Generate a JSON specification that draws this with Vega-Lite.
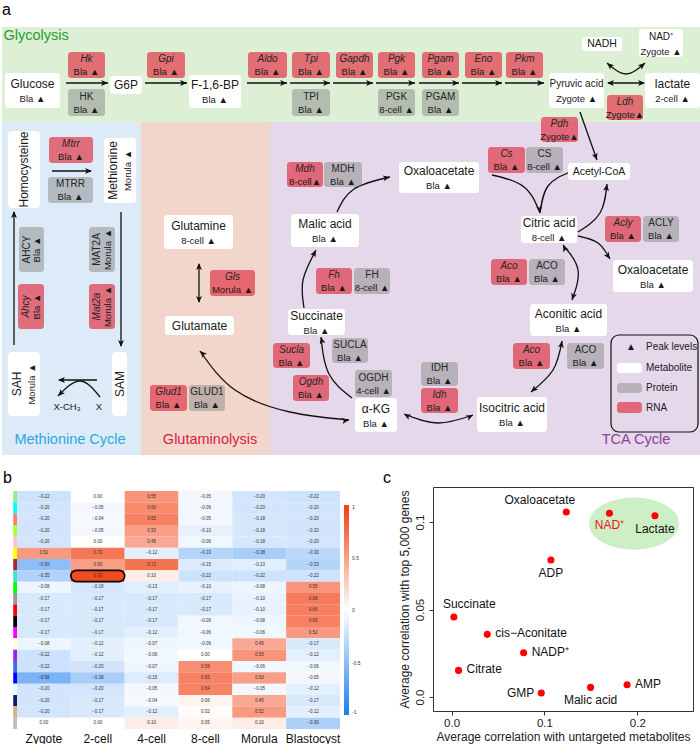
{
"$schema": "https://vega.github.io/schema/vega-lite/v6.json",
"padding": 0,
"background": "white",
"config": {
  "font": "Liberation Sans",
  "view": {"stroke": null},
  "concat": {"spacing": 0},
  "axis": {"grid": false},
  "title": {"fontSize": 16, "fontWeight": "normal", "anchor": "start", "font": "Liberation Sans", "color": "#000000"}
},
"datasets": {
  "regions": [
    {"region": "Glycolysis", "x1": 2, "x2": 700, "y1": 27, "y2": 122, "tx": 36, "ty": 36},
    {"region": "Methionine Cycle", "x1": 2, "x2": 141, "y1": 122, "y2": 455, "tx": 70, "ty": 440},
    {"region": "Glutaminolysis", "x1": 141, "x2": 270, "y1": 122, "y2": 455, "tx": 210, "ty": 440},
    {"region": "TCA Cycle", "x1": 270, "x2": 700, "y1": 122, "y2": 455, "tx": 636, "ty": 440}
  ],
  "boxes": [
    {"name": "Glucose", "peak": "Bla ▲", "kind": "metabolite", "grp": "big", "x1": 5, "x2": 60, "y1": 73, "y2": 108, "cx": 32.5, "cy": 90.5},
    {"name": "G6P", "peak": "", "kind": "metabolite", "grp": "big", "x1": 110, "x2": 142, "y1": 76, "y2": 94, "cx": 126, "cy": 85},
    {"name": "F-1,6-BP", "peak": "Bla ▲", "kind": "metabolite", "grp": "big", "x1": 189, "x2": 241, "y1": 75, "y2": 108, "cx": 215, "cy": 91.5},
    {"name": "lactate", "peak": "2-cell ▲", "kind": "metabolite", "grp": "big", "x1": 645, "x2": 700, "y1": 73, "y2": 108, "cx": 672.5, "cy": 90.5},
    {"name": "Glutamine", "peak": "8-cell ▲", "kind": "metabolite", "grp": "big", "x1": 164, "x2": 233, "y1": 215, "y2": 249, "cx": 198.5, "cy": 232},
    {"name": "Glutamate", "peak": "", "kind": "metabolite", "grp": "big", "x1": 165, "x2": 234, "y1": 316, "y2": 335, "cx": 199.5, "cy": 325.5},
    {"name": "Malic acid", "peak": "Bla ▲", "kind": "metabolite", "grp": "big", "x1": 291, "x2": 359, "y1": 214, "y2": 247, "cx": 325, "cy": 230.5},
    {"name": "Oxaloacetate", "peak": "Bla ▲", "kind": "metabolite", "grp": "big", "x1": 399, "x2": 479, "y1": 162, "y2": 193, "cx": 439, "cy": 177.5},
    {"name": "Succinate", "peak": "Bla ▲", "kind": "metabolite", "grp": "big", "x1": 288, "x2": 345, "y1": 309, "y2": 335, "cx": 316.5, "cy": 322},
    {"name": "Citric acid", "peak": "8-cell ▲", "kind": "metabolite", "grp": "big", "x1": 521, "x2": 577, "y1": 216, "y2": 243, "cx": 549, "cy": 229.5},
    {"name": "Oxaloacetate", "peak": "Bla ▲", "kind": "metabolite", "grp": "big", "x1": 613, "x2": 693, "y1": 260, "y2": 292, "cx": 653, "cy": 276},
    {"name": "Aconitic acid", "peak": "Bla ▲", "kind": "metabolite", "grp": "big", "x1": 530, "x2": 607, "y1": 304, "y2": 336, "cx": 568.5, "cy": 320},
    {"name": "Isocitric acid", "peak": "Bla ▲", "kind": "metabolite", "grp": "big", "x1": 477, "x2": 547, "y1": 397, "y2": 432, "cx": 512, "cy": 414.5},
    {"name": "α-KG", "peak": "Bla ▲", "kind": "metabolite", "grp": "big", "x1": 355, "x2": 397, "y1": 398, "y2": 432, "cx": 376, "cy": 415},
    {"name": "Pyruvic acid", "peak": "Zygote ▲", "kind": "metabolite", "grp": "small", "x1": 549, "x2": 604, "y1": 73, "y2": 108, "cx": 576.5, "cy": 90.5},
    {"name": "NADH", "peak": "", "kind": "metabolite", "grp": "small", "x1": 582, "x2": 622, "y1": 37, "y2": 51, "cx": 602, "cy": 44},
    {"name": "NAD⁺", "peak": "Zygote ▲", "kind": "metabolite", "grp": "small", "x1": 639, "x2": 683, "y1": 29, "y2": 57, "cx": 661, "cy": 43},
    {"name": "Acetyl-CoA", "peak": "", "kind": "metabolite", "grp": "small", "x1": 568, "x2": 630, "y1": 163, "y2": 180, "cx": 599, "cy": 171.5},
    {"name": "Hk", "peak": "Bla ▲", "kind": "rna", "grp": "enz", "x1": 68, "x2": 105, "y1": 52, "y2": 78, "cx": 86.5, "cy": 65},
    {"name": "Gpi", "peak": "Bla ▲", "kind": "rna", "grp": "enz", "x1": 147, "x2": 185, "y1": 52, "y2": 78, "cx": 166, "cy": 65},
    {"name": "Aldo", "peak": "Bla ▲", "kind": "rna", "grp": "enz", "x1": 248, "x2": 287, "y1": 52, "y2": 78, "cx": 267.5, "cy": 65},
    {"name": "Tpi", "peak": "Bla ▲", "kind": "rna", "grp": "enz", "x1": 292, "x2": 330, "y1": 52, "y2": 78, "cx": 311, "cy": 65},
    {"name": "Gapdh", "peak": "Bla ▲", "kind": "rna", "grp": "enz", "x1": 336, "x2": 373, "y1": 52, "y2": 78, "cx": 354.5, "cy": 65},
    {"name": "Pgk", "peak": "Bla ▲", "kind": "rna", "grp": "enz", "x1": 378, "x2": 415, "y1": 52, "y2": 78, "cx": 396.5, "cy": 65},
    {"name": "Pgam", "peak": "Bla ▲", "kind": "rna", "grp": "enz", "x1": 422, "x2": 459, "y1": 52, "y2": 78, "cx": 440.5, "cy": 65},
    {"name": "Eno", "peak": "Bla ▲", "kind": "rna", "grp": "enz", "x1": 465, "x2": 502, "y1": 52, "y2": 78, "cx": 483.5, "cy": 65},
    {"name": "Pkm", "peak": "Bla ▲", "kind": "rna", "grp": "enz", "x1": 506, "x2": 543, "y1": 52, "y2": 78, "cx": 524.5, "cy": 65},
    {"name": "Ldh", "peak": "Zygote▲", "kind": "rna", "grp": "enz", "x1": 607, "x2": 643, "y1": 95, "y2": 120, "cx": 625, "cy": 107.5},
    {"name": "Pdh", "peak": "Zygote▲", "kind": "rna", "grp": "enz", "x1": 541, "x2": 578, "y1": 117, "y2": 142, "cx": 559.5, "cy": 129.5},
    {"name": "Mtrr", "peak": "Bla ▲", "kind": "rna", "grp": "enz", "x1": 49, "x2": 93, "y1": 137, "y2": 163, "cx": 71, "cy": 150},
    {"name": "Gls", "peak": "Morula ▲", "kind": "rna", "grp": "enz", "x1": 210, "x2": 255, "y1": 270, "y2": 296, "cx": 232.5, "cy": 283},
    {"name": "Glud1", "peak": "Bla ▲", "kind": "rna", "grp": "enz", "x1": 150, "x2": 187, "y1": 385, "y2": 411, "cx": 168.5, "cy": 398},
    {"name": "Cs", "peak": "Bla ▲", "kind": "rna", "grp": "enz", "x1": 488, "x2": 525, "y1": 147, "y2": 173, "cx": 506.5, "cy": 160},
    {"name": "Mdh", "peak": "8-cell▲", "kind": "rna", "grp": "enz", "x1": 287, "x2": 323, "y1": 162, "y2": 187, "cx": 305, "cy": 174.5},
    {"name": "Fh", "peak": "Bla ▲", "kind": "rna", "grp": "enz", "x1": 316, "x2": 352, "y1": 268, "y2": 294, "cx": 334, "cy": 281},
    {"name": "Acly", "peak": "Bla ▲", "kind": "rna", "grp": "enz", "x1": 605, "x2": 641, "y1": 216, "y2": 242, "cx": 623, "cy": 229},
    {"name": "Aco", "peak": "Bla ▲", "kind": "rna", "grp": "enz", "x1": 491, "x2": 527, "y1": 259, "y2": 285, "cx": 509, "cy": 272},
    {"name": "Sucla", "peak": "Bla ▲", "kind": "rna", "grp": "enz", "x1": 273, "x2": 310, "y1": 343, "y2": 368, "cx": 291.5, "cy": 355.5},
    {"name": "Aco", "peak": "Bla ▲", "kind": "rna", "grp": "enz", "x1": 513, "x2": 550, "y1": 343, "y2": 369, "cx": 531.5, "cy": 356},
    {"name": "Idh", "peak": "Bla ▲", "kind": "rna", "grp": "enz", "x1": 421, "x2": 458, "y1": 388, "y2": 413, "cx": 439.5, "cy": 400.5},
    {"name": "Ogdh", "peak": "Bla ▲", "kind": "rna", "grp": "enz", "x1": 293, "x2": 329, "y1": 375, "y2": 401, "cx": 311, "cy": 388},
    {"name": "HK", "peak": "Bla ▲", "kind": "protein", "grp": "enz", "x1": 68, "x2": 105, "y1": 89, "y2": 116, "cx": 86.5, "cy": 102.5},
    {"name": "TPI", "peak": "Bla ▲", "kind": "protein", "grp": "enz", "x1": 292, "x2": 330, "y1": 89, "y2": 116, "cx": 311, "cy": 102.5},
    {"name": "PGK", "peak": "8-cell ▲", "kind": "protein", "grp": "enz", "x1": 378, "x2": 415, "y1": 89, "y2": 116, "cx": 396.5, "cy": 102.5},
    {"name": "PGAM", "peak": "Bla ▲", "kind": "protein", "grp": "enz", "x1": 422, "x2": 459, "y1": 89, "y2": 116, "cx": 440.5, "cy": 102.5},
    {"name": "MTRR", "peak": "Bla ▲", "kind": "protein", "grp": "enz", "x1": 48, "x2": 93, "y1": 177, "y2": 203, "cx": 70.5, "cy": 190},
    {"name": "GLUD1", "peak": "Bla ▲", "kind": "protein", "grp": "enz", "x1": 189, "x2": 225, "y1": 385, "y2": 411, "cx": 207, "cy": 398},
    {"name": "CS", "peak": "8-cell ▲", "kind": "protein", "grp": "enz", "x1": 526, "x2": 563, "y1": 147, "y2": 173, "cx": 544.5, "cy": 160},
    {"name": "MDH", "peak": "Bla ▲", "kind": "protein", "grp": "enz", "x1": 324, "x2": 362, "y1": 162, "y2": 187, "cx": 343, "cy": 174.5},
    {"name": "FH", "peak": "8-cell ▲", "kind": "protein", "grp": "enz", "x1": 354, "x2": 390, "y1": 268, "y2": 294, "cx": 372, "cy": 281},
    {"name": "ACLY", "peak": "Bla ▲", "kind": "protein", "grp": "enz", "x1": 643, "x2": 679, "y1": 216, "y2": 242, "cx": 661, "cy": 229},
    {"name": "ACO", "peak": "Bla ▲", "kind": "protein", "grp": "enz", "x1": 529, "x2": 565, "y1": 259, "y2": 285, "cx": 547, "cy": 272},
    {"name": "SUCLA", "peak": "Bla ▲", "kind": "protein", "grp": "enz", "x1": 332, "x2": 368, "y1": 338, "y2": 363, "cx": 350, "cy": 350.5},
    {"name": "ACO", "peak": "Bla ▲", "kind": "protein", "grp": "enz", "x1": 567, "x2": 604, "y1": 343, "y2": 369, "cx": 585.5, "cy": 356},
    {"name": "IDH", "peak": "Bla ▲", "kind": "protein", "grp": "enz", "x1": 421, "x2": 458, "y1": 362, "y2": 386, "cx": 439.5, "cy": 374},
    {"name": "OGDH", "peak": "4-cell ▲", "kind": "protein", "grp": "enz", "x1": 355, "x2": 392, "y1": 370, "y2": 397, "cx": 373.5, "cy": 383.5},
    {"name": "Homocysteine", "peak": "", "kind": "metabolite", "grp": "vbig", "x1": 8, "x2": 40, "y1": 131, "y2": 208, "cx": 24, "cy": 169.5},
    {"name": "Methionine", "peak": "Morula ▲", "kind": "metabolite", "grp": "vbig", "x1": 104, "x2": 136, "y1": 138, "y2": 203, "cx": 120, "cy": 170.5},
    {"name": "SAH", "peak": "Morula ▲", "kind": "metabolite", "grp": "vbig", "x1": 8, "x2": 40, "y1": 352, "y2": 416, "cx": 24, "cy": 384},
    {"name": "SAM", "peak": "", "kind": "metabolite", "grp": "vbig", "x1": 112, "x2": 127, "y1": 352, "y2": 416, "cx": 119.5, "cy": 384},
    {"name": "AHCY", "peak": "Bla ▲", "kind": "protein", "grp": "venz", "x1": 19, "x2": 44, "y1": 227, "y2": 272, "cx": 31.5, "cy": 249.5},
    {"name": "Ahcy", "peak": "Bla ▲", "kind": "rna", "grp": "venz", "x1": 18, "x2": 44, "y1": 284, "y2": 329, "cx": 31, "cy": 306.5},
    {"name": "MAT2A", "peak": "Morula ▲", "kind": "protein", "grp": "venz", "x1": 89, "x2": 115, "y1": 227, "y2": 272, "cx": 102, "cy": 249.5},
    {"name": "Mat2a", "peak": "Morula ▲", "kind": "rna", "grp": "venz", "x1": 89, "x2": 115, "y1": 284, "y2": 329, "cx": 102, "cy": 306.5},
    {"name": "", "peak": "", "kind": "metabolite", "grp": "swatch", "x1": 617, "x2": 642, "y1": 363, "y2": 373, "cx": 629.5, "cy": 368},
    {"name": "", "peak": "", "kind": "protein", "grp": "swatch", "x1": 617, "x2": 642, "y1": 383, "y2": 393, "cx": 629.5, "cy": 388},
    {"name": "", "peak": "", "kind": "rna", "grp": "swatch", "x1": 617, "x2": 642, "y1": 402, "y2": 413, "cx": 629.5, "cy": 407.5}
  ],
  "segs": [
    {"x1": 66, "y1": 83, "x2": 108, "y2": 83},
    {"x1": 145, "y1": 83, "x2": 187, "y2": 83},
    {"x1": 247, "y1": 83, "x2": 287, "y2": 83},
    {"x1": 290, "y1": 83, "x2": 330, "y2": 83},
    {"x1": 333, "y1": 83, "x2": 373, "y2": 83},
    {"x1": 376, "y1": 83, "x2": 415, "y2": 83},
    {"x1": 419, "y1": 83, "x2": 459, "y2": 83},
    {"x1": 462, "y1": 83, "x2": 502, "y2": 83},
    {"x1": 505, "y1": 83, "x2": 544, "y2": 83},
    {"x1": 608, "y1": 83, "x2": 644, "y2": 83},
    {"x1": 580, "y1": 112, "x2": 597, "y2": 160},
    {"x1": 14, "y1": 345, "x2": 14, "y2": 212},
    {"x1": 121, "y1": 212, "x2": 121, "y2": 346},
    {"x1": 52, "y1": 171, "x2": 91, "y2": 171},
    {"x1": 97, "y1": 380, "x2": 59, "y2": 380},
    {"x1": 199, "y1": 264, "x2": 199, "y2": 302}
  ],
  "curves": [
    {"id": "c1", "i": 0, "x": 607, "y": 63}, {"id": "c1", "i": 1, "x": 626, "y": 74}, {"id": "c1", "i": 2, "x": 645, "y": 63},
    {"id": "c2", "i": 0, "x": 337, "y": 212}, {"id": "c2", "i": 1, "x": 354, "y": 189}, {"id": "c2", "i": 2, "x": 390, "y": 177},
    {"id": "c3", "i": 0, "x": 304, "y": 308}, {"id": "c3", "i": 1, "x": 303, "y": 280}, {"id": "c3", "i": 2, "x": 316, "y": 250},
    {"id": "c4", "i": 0, "x": 352, "y": 398}, {"id": "c4", "i": 1, "x": 329, "y": 374}, {"id": "c4", "i": 2, "x": 321, "y": 337},
    {"id": "c5", "i": 0, "x": 200, "y": 351}, {"id": "c5", "i": 1, "x": 235, "y": 390}, {"id": "c5", "i": 2, "x": 290, "y": 412}, {"id": "c5", "i": 3, "x": 349, "y": 420},
    {"id": "c6", "i": 0, "x": 404, "y": 414}, {"id": "c6", "i": 1, "x": 438, "y": 423}, {"id": "c6", "i": 2, "x": 473, "y": 415},
    {"id": "c7", "i": 0, "x": 531, "y": 392}, {"id": "c7", "i": 1, "x": 553, "y": 370}, {"id": "c7", "i": 2, "x": 562, "y": 341},
    {"id": "c8", "i": 0, "x": 563, "y": 245}, {"id": "c8", "i": 1, "x": 578, "y": 270}, {"id": "c8", "i": 2, "x": 572, "y": 300},
    {"id": "c9", "i": 0, "x": 578, "y": 232}, {"id": "c9", "i": 1, "x": 600, "y": 213}, {"id": "c9", "i": 2, "x": 607, "y": 184},
    {"id": "c10", "i": 0, "x": 578, "y": 236}, {"id": "c10", "i": 1, "x": 598, "y": 243}, {"id": "c10", "i": 2, "x": 610, "y": 259},
    {"id": "c11", "i": 0, "x": 492, "y": 175}, {"id": "c11", "i": 1, "x": 524, "y": 187}, {"id": "c11", "i": 2, "x": 540, "y": 213},
    {"id": "c12", "i": 0, "x": 570, "y": 172}, {"id": "c12", "i": 1, "x": 548, "y": 186}, {"id": "c12", "i": 2, "x": 540, "y": 213},
    {"id": "c13", "i": 0, "x": 100, "y": 397}, {"id": "c13", "i": 1, "x": 80, "y": 381}, {"id": "c13", "i": 2, "x": 58, "y": 396}
  ],
  "heads": [
    {"x": 108, "y": 83, "a": 90}, {"x": 187, "y": 83, "a": 90}, {"x": 287, "y": 83, "a": 90}, {"x": 330, "y": 83, "a": 90},
    {"x": 373, "y": 83, "a": 90}, {"x": 415, "y": 83, "a": 90}, {"x": 459, "y": 83, "a": 90}, {"x": 502, "y": 83, "a": 90},
    {"x": 544, "y": 83, "a": 90}, {"x": 607, "y": 83, "a": 270}, {"x": 645, "y": 83, "a": 90}, {"x": 597, "y": 160, "a": 160},
    {"x": 14, "y": 211, "a": 0}, {"x": 121, "y": 347, "a": 180}, {"x": 92, "y": 171, "a": 90}, {"x": 58, "y": 380, "a": 270},
    {"x": 199, "y": 263, "a": 0}, {"x": 199, "y": 303, "a": 180},
    {"x": 607, "y": 63, "a": 311}, {"x": 645, "y": 63, "a": 49}, {"x": 390, "y": 177, "a": 79}, {"x": 316, "y": 250, "a": 27},
    {"x": 321, "y": 337, "a": 347}, {"x": 200, "y": 351, "a": 315}, {"x": 349, "y": 420, "a": 82}, {"x": 404, "y": 414, "a": 299},
    {"x": 473, "y": 415, "a": 63}, {"x": 531, "y": 392, "a": 228}, {"x": 562, "y": 341, "a": 10}, {"x": 563, "y": 245, "a": 333},
    {"x": 572, "y": 300, "a": 198}, {"x": 607, "y": 184, "a": 8}, {"x": 610, "y": 259, "a": 146}, {"x": 540, "y": 213, "a": 172},
    {"x": 58, "y": 396, "a": 225}
  ],
  "frame": [{"x1": 611, "x2": 698, "y1": 335, "y2": 432}],
  "legendText": [
    {"t": "▲", "x": 626, "y": 347}, {"t": "Peak levels", "x": 646, "y": 347}, {"t": "Metabolite", "x": 646, "y": 368},
    {"t": "Protein", "x": 646, "y": 388}, {"t": "RNA", "x": 646, "y": 407.5}
  ],
  "notes": [{"t": "X-CH₃", "x": 67, "y": 407}, {"t": "X", "x": 99, "y": 407}],
  "panelLabel": [{"t": "a", "x": 2, "y": 10}],
  "heat": [
    {"m": "lightgreen", "s": "Zygote", "r": -0.22}, {"m": "lightgreen", "s": "2-cell", "r": 0.0}, {"m": "lightgreen", "s": "4-cell", "r": 0.55}, {"m": "lightgreen", "s": "8-cell", "r": -0.05}, {"m": "lightgreen", "s": "Morula", "r": -0.2}, {"m": "lightgreen", "s": "Blastocyst", "r": -0.22},
    {"m": "cyan", "s": "Zygote", "r": -0.2}, {"m": "cyan", "s": "2-cell", "r": -0.05}, {"m": "cyan", "s": "4-cell", "r": 0.6}, {"m": "cyan", "s": "8-cell", "r": -0.06}, {"m": "cyan", "s": "Morula", "r": -0.2}, {"m": "cyan", "s": "Blastocyst", "r": -0.2},
    {"m": "salmon", "s": "Zygote", "r": -0.2}, {"m": "salmon", "s": "2-cell", "r": -0.04}, {"m": "salmon", "s": "4-cell", "r": 0.65}, {"m": "salmon", "s": "8-cell", "r": -0.05}, {"m": "salmon", "s": "Morula", "r": -0.18}, {"m": "salmon", "s": "Blastocyst", "r": -0.2},
    {"m": "greenyellow", "s": "Zygote", "r": -0.2}, {"m": "greenyellow", "s": "2-cell", "r": -0.05}, {"m": "greenyellow", "s": "4-cell", "r": 0.5}, {"m": "greenyellow", "s": "8-cell", "r": -0.1}, {"m": "greenyellow", "s": "Morula", "r": -0.18}, {"m": "greenyellow", "s": "Blastocyst", "r": -0.2},
    {"m": "pink", "s": "Zygote", "r": -0.2}, {"m": "pink", "s": "2-cell", "r": 0.0}, {"m": "pink", "s": "4-cell", "r": 0.45}, {"m": "pink", "s": "8-cell", "r": -0.06}, {"m": "pink", "s": "Morula", "r": -0.18}, {"m": "pink", "s": "Blastocyst", "r": -0.2},
    {"m": "yellow", "s": "Zygote", "r": 0.52}, {"m": "yellow", "s": "2-cell", "r": 0.7}, {"m": "yellow", "s": "4-cell", "r": -0.12}, {"m": "yellow", "s": "8-cell", "r": -0.33}, {"m": "yellow", "s": "Morula", "r": -0.38}, {"m": "yellow", "s": "Blastocyst", "r": -0.3},
    {"m": "brown", "s": "Zygote", "r": -0.5}, {"m": "brown", "s": "2-cell", "r": 0.5}, {"m": "brown", "s": "4-cell", "r": 0.72}, {"m": "brown", "s": "8-cell", "r": -0.15}, {"m": "brown", "s": "Morula", "r": -0.13}, {"m": "brown", "s": "Blastocyst", "r": -0.33},
    {"m": "turquoise", "s": "Zygote", "r": -0.35}, {"m": "turquoise", "s": "2-cell", "r": 0.93}, {"m": "turquoise", "s": "4-cell", "r": 0.1}, {"m": "turquoise", "s": "8-cell", "r": -0.22}, {"m": "turquoise", "s": "Morula", "r": -0.22}, {"m": "turquoise", "s": "Blastocyst", "r": -0.22},
    {"m": "green", "s": "Zygote", "r": -0.08}, {"m": "green", "s": "2-cell", "r": -0.18}, {"m": "green", "s": "4-cell", "r": -0.13}, {"m": "green", "s": "8-cell", "r": -0.1}, {"m": "green", "s": "Morula", "r": -0.08}, {"m": "green", "s": "Blastocyst", "r": 0.55},
    {"m": "grey60", "s": "Zygote", "r": -0.17}, {"m": "grey60", "s": "2-cell", "r": -0.17}, {"m": "grey60", "s": "4-cell", "r": -0.17}, {"m": "grey60", "s": "8-cell", "r": -0.17}, {"m": "grey60", "s": "Morula", "r": -0.1}, {"m": "grey60", "s": "Blastocyst", "r": 0.68},
    {"m": "red", "s": "Zygote", "r": -0.17}, {"m": "red", "s": "2-cell", "r": -0.17}, {"m": "red", "s": "4-cell", "r": -0.17}, {"m": "red", "s": "8-cell", "r": -0.17}, {"m": "red", "s": "Morula", "r": -0.1}, {"m": "red", "s": "Blastocyst", "r": 0.66},
    {"m": "black", "s": "Zygote", "r": -0.17}, {"m": "black", "s": "2-cell", "r": -0.17}, {"m": "black", "s": "4-cell", "r": -0.17}, {"m": "black", "s": "8-cell", "r": -0.06}, {"m": "black", "s": "Morula", "r": -0.08}, {"m": "black", "s": "Blastocyst", "r": 0.65},
    {"m": "magenta", "s": "Zygote", "r": -0.17}, {"m": "magenta", "s": "2-cell", "r": -0.17}, {"m": "magenta", "s": "4-cell", "r": -0.12}, {"m": "magenta", "s": "8-cell", "r": -0.06}, {"m": "magenta", "s": "Morula", "r": -0.06}, {"m": "magenta", "s": "Blastocyst", "r": 0.52},
    {"m": "lightyellow", "s": "Zygote", "r": -0.08}, {"m": "lightyellow", "s": "2-cell", "r": -0.12}, {"m": "lightyellow", "s": "4-cell", "r": -0.07}, {"m": "lightyellow", "s": "8-cell", "r": -0.06}, {"m": "lightyellow", "s": "Morula", "r": 0.45}, {"m": "lightyellow", "s": "Blastocyst", "r": -0.17},
    {"m": "purple", "s": "Zygote", "r": -0.22}, {"m": "purple", "s": "2-cell", "r": -0.12}, {"m": "purple", "s": "4-cell", "r": -0.06}, {"m": "purple", "s": "8-cell", "r": 0.0}, {"m": "purple", "s": "Morula", "r": 0.55}, {"m": "purple", "s": "Blastocyst", "r": -0.12},
    {"m": "royalblue", "s": "Zygote", "r": -0.22}, {"m": "royalblue", "s": "2-cell", "r": -0.2}, {"m": "royalblue", "s": "4-cell", "r": -0.07}, {"m": "royalblue", "s": "8-cell", "r": 0.58}, {"m": "royalblue", "s": "Morula", "r": -0.06}, {"m": "royalblue", "s": "Blastocyst", "r": -0.06},
    {"m": "blue", "s": "Zygote", "r": -0.58}, {"m": "blue", "s": "2-cell", "r": -0.38}, {"m": "blue", "s": "4-cell", "r": -0.15}, {"m": "blue", "s": "8-cell", "r": 0.65}, {"m": "blue", "s": "Morula", "r": 0.5}, {"m": "blue", "s": "Blastocyst", "r": -0.05},
    {"m": "lightcyan", "s": "Zygote", "r": -0.2}, {"m": "lightcyan", "s": "2-cell", "r": -0.2}, {"m": "lightcyan", "s": "4-cell", "r": -0.05}, {"m": "lightcyan", "s": "8-cell", "r": 0.64}, {"m": "lightcyan", "s": "Morula", "r": -0.05}, {"m": "lightcyan", "s": "Blastocyst", "r": -0.12},
    {"m": "midnightblue", "s": "Zygote", "r": -0.2}, {"m": "midnightblue", "s": "2-cell", "r": -0.17}, {"m": "midnightblue", "s": "4-cell", "r": -0.04}, {"m": "midnightblue", "s": "8-cell", "r": 0.06}, {"m": "midnightblue", "s": "Morula", "r": 0.45}, {"m": "midnightblue", "s": "Blastocyst", "r": -0.17},
    {"m": "tan", "s": "Zygote", "r": -0.2}, {"m": "tan", "s": "2-cell", "r": -0.17}, {"m": "tan", "s": "4-cell", "r": -0.12}, {"m": "tan", "s": "8-cell", "r": 0.02}, {"m": "tan", "s": "Morula", "r": 0.52}, {"m": "tan", "s": "Blastocyst", "r": -0.12},
    {"m": "grey", "s": "Zygote", "r": 0.0}, {"m": "grey", "s": "2-cell", "r": 0.0}, {"m": "grey", "s": "4-cell", "r": 0.1}, {"m": "grey", "s": "8-cell", "r": 0.05}, {"m": "grey", "s": "Morula", "r": 0.1}, {"m": "grey", "s": "Blastocyst", "r": -0.36}
  ],
  "scatter": [
    {"name": "Oxaloacetate", "x": 0.1235, "y": 0.1057},
    {"name": "NAD⁺", "x": 0.170, "y": 0.105},
    {"name": "Lactate", "x": 0.219, "y": 0.1036},
    {"name": "ADP", "x": 0.107, "y": 0.0783},
    {"name": "Succinate", "x": 0.0025, "y": 0.0457},
    {"name": "cis−Aconitate", "x": 0.0384, "y": 0.0358},
    {"name": "NADP⁺", "x": 0.0776, "y": 0.0253},
    {"name": "Citrate", "x": 0.0075, "y": 0.0152},
    {"name": "GMP", "x": 0.0966, "y": 0.0023},
    {"name": "Malic acid", "x": 0.1497, "y": 0.0055},
    {"name": "AMP", "x": 0.189, "y": 0.007}
  ],
  "ellipse": [{"x": 0.1964, "y": 0.0991}]
},
"spacing": 0,
"vconcat": [
  {
    "width": 700,
    "height": 469,
    "resolve": {"scale": {"color": "independent", "fill": "independent"}},
    "layer": [
      {"data": {"name": "regions"}, "mark": {"type": "rect"},
       "encoding": {
         "x": {"field": "x1", "type": "quantitative", "scale": {"domain": [0, 700], "nice": false, "zero": false}, "axis": null},
         "x2": {"field": "x2"},
         "y": {"field": "y1", "type": "quantitative", "scale": {"domain": [0, 469], "nice": false, "zero": false, "reverse": true}, "axis": null},
         "y2": {"field": "y2"},
         "color": {"field": "region", "type": "nominal", "scale": {"domain": ["Glycolysis", "Methionine Cycle", "Glutaminolysis", "TCA Cycle"], "range": ["#ddf0d5", "#dcebf7", "#f3d6cb", "#e4d8ea"]}, "legend": null}
       }},
      {"data": {"name": "regions"}, "mark": {"type": "text", "fontSize": 14.5, "baseline": "middle", "align": "center"},
       "encoding": {
         "x": {"field": "tx", "type": "quantitative", "scale": {"domain": [0, 700], "nice": false, "zero": false}, "axis": null},
         "y": {"field": "ty", "type": "quantitative", "scale": {"domain": [0, 469], "nice": false, "zero": false, "reverse": true}, "axis": null},
         "text": {"field": "region"},
         "fill": {"field": "region", "type": "nominal", "scale": {"domain": ["Glycolysis", "Methionine Cycle", "Glutaminolysis", "TCA Cycle"], "range": ["#1f9e2a", "#2aa8e0", "#d5243c", "#8b3f9c"]}, "legend": null}
       }},
      {"data": {"name": "curves"}, "mark": {"type": "line", "interpolate": "natural", "color": "#111111", "strokeWidth": 1.3},
       "encoding": {
         "x": {"field": "x", "type": "quantitative", "scale": {"domain": [0, 700], "nice": false, "zero": false}, "axis": null},
         "y": {"field": "y", "type": "quantitative", "scale": {"domain": [0, 469], "nice": false, "zero": false, "reverse": true}, "axis": null},
         "detail": {"field": "id"},
         "order": {"field": "i", "type": "quantitative"}
       }},
      {"data": {"name": "segs"}, "mark": {"type": "rule", "color": "#111111", "strokeWidth": 1.3},
       "encoding": {
         "x": {"field": "x1", "type": "quantitative", "scale": {"domain": [0, 700], "nice": false, "zero": false}, "axis": null},
         "x2": {"field": "x2"},
         "y": {"field": "y1", "type": "quantitative", "scale": {"domain": [0, 469], "nice": false, "zero": false, "reverse": true}, "axis": null},
         "y2": {"field": "y2"}
       }},
      {"data": {"name": "heads"}, "mark": {"type": "point", "shape": "M0,0L0.85,2L0,1.5L-0.85,2Z", "filled": true, "color": "#111111", "opacity": 1, "size": 48, "strokeWidth": 0},
       "encoding": {
         "x": {"field": "x", "type": "quantitative", "scale": {"domain": [0, 700], "nice": false, "zero": false}, "axis": null},
         "y": {"field": "y", "type": "quantitative", "scale": {"domain": [0, 469], "nice": false, "zero": false, "reverse": true}, "axis": null},
         "angle": {"field": "a", "type": "quantitative", "scale": null}
       }},
      {"data": {"name": "boxes"}, "transform": [{"filter": "datum.kind == 'metabolite'"}], "mark": {"type": "rect", "color": "#ffffff", "cornerRadius": 3},
       "encoding": {
         "x": {"field": "x1", "type": "quantitative", "scale": {"domain": [0, 700], "nice": false, "zero": false}, "axis": null},
         "x2": {"field": "x2"},
         "y": {"field": "y1", "type": "quantitative", "scale": {"domain": [0, 469], "nice": false, "zero": false, "reverse": true}, "axis": null},
         "y2": {"field": "y2"}
       }},
      {"data": {"name": "boxes"}, "transform": [{"filter": "datum.kind == 'protein'"}], "mark": {"type": "rect", "color": "#8a8a8a", "opacity": 0.5, "cornerRadius": 3},
       "encoding": {
         "x": {"field": "x1", "type": "quantitative", "scale": {"domain": [0, 700], "nice": false, "zero": false}, "axis": null},
         "x2": {"field": "x2"},
         "y": {"field": "y1", "type": "quantitative", "scale": {"domain": [0, 469], "nice": false, "zero": false, "reverse": true}, "axis": null},
         "y2": {"field": "y2"}
       }},
      {"data": {"name": "boxes"}, "transform": [{"filter": "datum.kind == 'rna'"}], "mark": {"type": "rect", "color": "#e04352", "opacity": 0.75, "cornerRadius": 3},
       "encoding": {
         "x": {"field": "x1", "type": "quantitative", "scale": {"domain": [0, 700], "nice": false, "zero": false}, "axis": null},
         "x2": {"field": "x2"},
         "y": {"field": "y1", "type": "quantitative", "scale": {"domain": [0, 469], "nice": false, "zero": false, "reverse": true}, "axis": null},
         "y2": {"field": "y2"}
       }},
      {"data": {"name": "boxes"}, "transform": [{"filter": "datum.grp == 'big' && datum.peak != ''"}], "mark": {"type": "text", "fontSize": 12, "dy": -6.5, "baseline": "middle", "align": "center", "color": "#1a1a1a"},
       "encoding": {
         "x": {"field": "cx", "type": "quantitative", "scale": {"domain": [0, 700], "nice": false, "zero": false}, "axis": null},
         "y": {"field": "cy", "type": "quantitative", "scale": {"domain": [0, 469], "nice": false, "zero": false, "reverse": true}, "axis": null},
         "text": {"field": "name"}
       }},
      {"data": {"name": "boxes"}, "transform": [{"filter": "datum.grp == 'big' && datum.peak == ''"}], "mark": {"type": "text", "fontSize": 12, "baseline": "middle", "align": "center", "color": "#1a1a1a"},
       "encoding": {
         "x": {"field": "cx", "type": "quantitative", "scale": {"domain": [0, 700], "nice": false, "zero": false}, "axis": null},
         "y": {"field": "cy", "type": "quantitative", "scale": {"domain": [0, 469], "nice": false, "zero": false, "reverse": true}, "axis": null},
         "text": {"field": "name"}
       }},
      {"data": {"name": "boxes"}, "transform": [{"filter": "datum.grp == 'small' && datum.peak != ''"}], "mark": {"type": "text", "fontSize": 10, "dy": -6.5, "baseline": "middle", "align": "center", "color": "#1a1a1a"},
       "encoding": {
         "x": {"field": "cx", "type": "quantitative", "scale": {"domain": [0, 700], "nice": false, "zero": false}, "axis": null},
         "y": {"field": "cy", "type": "quantitative", "scale": {"domain": [0, 469], "nice": false, "zero": false, "reverse": true}, "axis": null},
         "text": {"field": "name"}
       }},
      {"data": {"name": "boxes"}, "transform": [{"filter": "datum.grp == 'small' && datum.peak == ''"}], "mark": {"type": "text", "fontSize": 10.5, "baseline": "middle", "align": "center", "color": "#1a1a1a"},
       "encoding": {
         "x": {"field": "cx", "type": "quantitative", "scale": {"domain": [0, 700], "nice": false, "zero": false}, "axis": null},
         "y": {"field": "cy", "type": "quantitative", "scale": {"domain": [0, 469], "nice": false, "zero": false, "reverse": true}, "axis": null},
         "text": {"field": "name"}
       }},
      {"data": {"name": "boxes"}, "transform": [{"filter": "(datum.grp == 'big' || datum.grp == 'small') && datum.peak != ''"}], "mark": {"type": "text", "fontSize": 9.5, "dy": 8.5, "baseline": "middle", "align": "center", "color": "#1a1a1a"},
       "encoding": {
         "x": {"field": "cx", "type": "quantitative", "scale": {"domain": [0, 700], "nice": false, "zero": false}, "axis": null},
         "y": {"field": "cy", "type": "quantitative", "scale": {"domain": [0, 469], "nice": false, "zero": false, "reverse": true}, "axis": null},
         "text": {"field": "peak"}
       }},
      {"data": {"name": "boxes"}, "transform": [{"filter": "datum.grp == 'enz' && datum.kind == 'protein'"}], "mark": {"type": "text", "fontSize": 10, "dy": -6, "baseline": "middle", "align": "center", "color": "#262626"},
       "encoding": {
         "x": {"field": "cx", "type": "quantitative", "scale": {"domain": [0, 700], "nice": false, "zero": false}, "axis": null},
         "y": {"field": "cy", "type": "quantitative", "scale": {"domain": [0, 469], "nice": false, "zero": false, "reverse": true}, "axis": null},
         "text": {"field": "name"}
       }},
      {"data": {"name": "boxes"}, "transform": [{"filter": "datum.grp == 'enz' && datum.kind == 'rna'"}], "mark": {"type": "text", "fontSize": 10, "fontStyle": "italic", "dy": -6, "baseline": "middle", "align": "center", "color": "#262626"},
       "encoding": {
         "x": {"field": "cx", "type": "quantitative", "scale": {"domain": [0, 700], "nice": false, "zero": false}, "axis": null},
         "y": {"field": "cy", "type": "quantitative", "scale": {"domain": [0, 469], "nice": false, "zero": false, "reverse": true}, "axis": null},
         "text": {"field": "name"}
       }},
      {"data": {"name": "boxes"}, "transform": [{"filter": "datum.grp == 'enz'"}], "mark": {"type": "text", "fontSize": 9.5, "dy": 7, "baseline": "middle", "align": "center", "color": "#1a1a1a"},
       "encoding": {
         "x": {"field": "cx", "type": "quantitative", "scale": {"domain": [0, 700], "nice": false, "zero": false}, "axis": null},
         "y": {"field": "cy", "type": "quantitative", "scale": {"domain": [0, 469], "nice": false, "zero": false, "reverse": true}, "axis": null},
         "text": {"field": "peak"}
       }},
      {"data": {"name": "boxes"}, "transform": [{"filter": "datum.grp == 'vbig' && datum.peak != ''"}], "mark": {"type": "text", "fontSize": 12, "angle": 270, "dy": -7, "baseline": "middle", "align": "center", "color": "#1a1a1a"},
       "encoding": {
         "x": {"field": "cx", "type": "quantitative", "scale": {"domain": [0, 700], "nice": false, "zero": false}, "axis": null},
         "y": {"field": "cy", "type": "quantitative", "scale": {"domain": [0, 469], "nice": false, "zero": false, "reverse": true}, "axis": null},
         "text": {"field": "name"}
       }},
      {"data": {"name": "boxes"}, "transform": [{"filter": "datum.grp == 'vbig' && datum.peak == ''"}], "mark": {"type": "text", "fontSize": 12, "angle": 270, "baseline": "middle", "align": "center", "color": "#1a1a1a"},
       "encoding": {
         "x": {"field": "cx", "type": "quantitative", "scale": {"domain": [0, 700], "nice": false, "zero": false}, "axis": null},
         "y": {"field": "cy", "type": "quantitative", "scale": {"domain": [0, 469], "nice": false, "zero": false, "reverse": true}, "axis": null},
         "text": {"field": "name"}
       }},
      {"data": {"name": "boxes"}, "transform": [{"filter": "datum.grp == 'vbig' && datum.peak != ''"}], "mark": {"type": "text", "fontSize": 9.5, "angle": 270, "dy": 7.5, "baseline": "middle", "align": "center", "color": "#1a1a1a"},
       "encoding": {
         "x": {"field": "cx", "type": "quantitative", "scale": {"domain": [0, 700], "nice": false, "zero": false}, "axis": null},
         "y": {"field": "cy", "type": "quantitative", "scale": {"domain": [0, 469], "nice": false, "zero": false, "reverse": true}, "axis": null},
         "text": {"field": "peak"}
       }},
      {"data": {"name": "boxes"}, "transform": [{"filter": "datum.grp == 'venz' && datum.kind == 'protein'"}], "mark": {"type": "text", "fontSize": 10, "angle": 270, "dy": -5, "baseline": "middle", "align": "center", "color": "#262626"},
       "encoding": {
         "x": {"field": "cx", "type": "quantitative", "scale": {"domain": [0, 700], "nice": false, "zero": false}, "axis": null},
         "y": {"field": "cy", "type": "quantitative", "scale": {"domain": [0, 469], "nice": false, "zero": false, "reverse": true}, "axis": null},
         "text": {"field": "name"}
       }},
      {"data": {"name": "boxes"}, "transform": [{"filter": "datum.grp == 'venz' && datum.kind == 'rna'"}], "mark": {"type": "text", "fontSize": 10, "fontStyle": "italic", "angle": 270, "dy": -5, "baseline": "middle", "align": "center", "color": "#262626"},
       "encoding": {
         "x": {"field": "cx", "type": "quantitative", "scale": {"domain": [0, 700], "nice": false, "zero": false}, "axis": null},
         "y": {"field": "cy", "type": "quantitative", "scale": {"domain": [0, 469], "nice": false, "zero": false, "reverse": true}, "axis": null},
         "text": {"field": "name"}
       }},
      {"data": {"name": "boxes"}, "transform": [{"filter": "datum.grp == 'venz'"}], "mark": {"type": "text", "fontSize": 9.5, "angle": 270, "dy": 5.5, "baseline": "middle", "align": "center", "color": "#1a1a1a"},
       "encoding": {
         "x": {"field": "cx", "type": "quantitative", "scale": {"domain": [0, 700], "nice": false, "zero": false}, "axis": null},
         "y": {"field": "cy", "type": "quantitative", "scale": {"domain": [0, 469], "nice": false, "zero": false, "reverse": true}, "axis": null},
         "text": {"field": "peak"}
       }},
      {"data": {"name": "frame"}, "mark": {"type": "rect", "fillOpacity": 0, "stroke": "#111111", "strokeWidth": 1.2, "cornerRadius": 8},
       "encoding": {
         "x": {"field": "x1", "type": "quantitative", "scale": {"domain": [0, 700], "nice": false, "zero": false}, "axis": null},
         "x2": {"field": "x2"},
         "y": {"field": "y1", "type": "quantitative", "scale": {"domain": [0, 469], "nice": false, "zero": false, "reverse": true}, "axis": null},
         "y2": {"field": "y2"}
       }},
      {"data": {"name": "legendText"}, "mark": {"type": "text", "fontSize": 10, "baseline": "middle", "align": "left", "color": "#1a1a1a"},
       "encoding": {
         "x": {"field": "x", "type": "quantitative", "scale": {"domain": [0, 700], "nice": false, "zero": false}, "axis": null},
         "y": {"field": "y", "type": "quantitative", "scale": {"domain": [0, 469], "nice": false, "zero": false, "reverse": true}, "axis": null},
         "text": {"field": "t"}
       }},
      {"data": {"name": "notes"}, "mark": {"type": "text", "fontSize": 9.5, "baseline": "middle", "align": "center", "color": "#1a1a1a"},
       "encoding": {
         "x": {"field": "x", "type": "quantitative", "scale": {"domain": [0, 700], "nice": false, "zero": false}, "axis": null},
         "y": {"field": "y", "type": "quantitative", "scale": {"domain": [0, 469], "nice": false, "zero": false, "reverse": true}, "axis": null},
         "text": {"field": "t"}
       }},
      {"data": {"name": "panelLabel"}, "mark": {"type": "text", "fontSize": 16, "baseline": "middle", "align": "left", "color": "#000000"},
       "encoding": {
         "x": {"field": "x", "type": "quantitative", "scale": {"domain": [0, 700], "nice": false, "zero": false}, "axis": null},
         "y": {"field": "y", "type": "quantitative", "scale": {"domain": [0, 469], "nice": false, "zero": false, "reverse": true}, "axis": null},
         "text": {"field": "t"}
       }}
    ]
  },
  {
    "spacing": 21,
    "hconcat": [
      {
        "title": {"text": "b", "offset": 1, "dx": 3},
        "spacing": 0,
        "hconcat": [
          {
            "width": 17,
            "height": 242,
            "data": {"name": "heat"},
            "transform": [{"filter": "datum.s == 'Zygote'"}],
            "mark": {"type": "rect"},
            "encoding": {
              "x": {"datum": 0, "type": "quantitative", "scale": {"domain": [-3.5, 1], "nice": false, "zero": false}, "axis": null},
              "x2": {"datum": 1},
              "y": {"field": "m", "type": "nominal", "sort": null, "scale": {"paddingInner": 0, "paddingOuter": 0.1765, "align": 1}, "axis": null},
              "color": {"field": "m", "type": "nominal", "legend": null, "scale": {
                "domain": ["lightgreen", "cyan", "salmon", "greenyellow", "pink", "yellow", "brown", "turquoise", "green", "grey60", "red", "black", "magenta", "lightyellow", "purple", "royalblue", "blue", "lightcyan", "midnightblue", "tan", "grey"],
                "range": ["#90ee90", "#00ffff", "#fa8072", "#adff2f", "#ffc0cb", "#ffff00", "#a52a2a", "#40e0d0", "#00ff00", "#999999", "#ff0000", "#000000", "#ff00ff", "#ffffe0", "#a020f0", "#4169e1", "#0000ff", "#e0ffff", "#191970", "#d2b48c", "#bebebe"]}}
            }
          },
          {
            "width": 323,
            "height": 242,
            "data": {"name": "heat"},
            "encoding": {
              "x": {"field": "s", "type": "nominal", "sort": null, "scale": {"paddingInner": 0, "paddingOuter": 0},
                    "axis": {"title": null, "orient": "bottom", "labelAngle": 0, "ticks": false, "domain": false, "labelFontSize": 12, "labelPadding": 4, "labelColor": "#111111"}},
              "y": {"field": "m", "type": "nominal", "sort": null, "scale": {"paddingInner": 0, "paddingOuter": 0.1765, "align": 1}, "axis": null}
            },
            "layer": [
              {"mark": {"type": "rect"},
               "encoding": {
                 "color": {"field": "r", "type": "quantitative",
                   "scale": {"domain": [-1, 0, 1], "range": ["#1c7cf0", "#ffffff", "#f23d0e"], "interpolate": "rgb"},
                   "legend": {"orient": "none", "legendX": 327, "legendY": 18, "title": null, "direction": "vertical", "gradientLength": 210, "gradientThickness": 5, "labelFontSize": 5, "labelOffset": 3, "values": [-1, -0.5, 0, 0.5, 1], "labelExpr": "'' + datum.value", "labelOverlap": false, "gradientStrokeWidth": 0, "padding": 0, "labelColor": "#333333"}}
               }},
              {"mark": {"type": "text", "fontSize": 4.5, "color": "#333333", "baseline": "middle"},
               "encoding": {"text": {"field": "r", "type": "quantitative", "format": ".2f"}}},
              {"transform": [{"filter": "datum.m == 'turquoise' && datum.s == '2-cell'"}],
               "mark": {"type": "rect", "fillOpacity": 0, "stroke": "#000000", "strokeWidth": 1.6, "cornerRadius": 8}}
            ]
          }
        ]
      },
      {
        "title": {"text": "c", "offset": 1, "dx": -50, "frame": "group"},
        "width": 260,
        "height": 224,
        "view": {"stroke": "#333333", "strokeWidth": 1},
        "encoding": {
          "x": {"field": "x", "type": "quantitative", "scale": {"domain": [-0.02, 0.26], "nice": false, "zero": false},
                "axis": {"title": "Average correlation with untargeted metabolites", "values": [0, 0.1, 0.2], "format": ".1f", "domain": false, "tickSize": 4, "tickColor": "#333333", "labelFontSize": 11.5, "labelColor": "#222222", "labelPadding": 2, "titleFontSize": 12, "titleFontWeight": "normal", "titleColor": "#222222", "titlePadding": 3}},
          "y": {"field": "y", "type": "quantitative", "scale": {"domain": [-0.008, 0.12], "nice": false, "zero": false},
                "axis": {"title": "Average correlation with top 5,000 genes", "values": [0, 0.05, 0.1], "labelExpr": "datum.value == 0.05 ? '0.05' : format(datum.value, '.1f')", "labelAngle": 270, "labelAlign": "center", "labelBaseline": "bottom", "domain": false, "tickSize": 4, "tickColor": "#333333", "labelFontSize": 11.5, "labelColor": "#222222", "labelPadding": 4, "titleFontSize": 12, "titleFontWeight": "normal", "titleColor": "#222222", "titlePadding": 3}}
        },
        "layer": [
          {"data": {"name": "ellipse"}, "mark": {"type": "point", "shape": "M-1,0A1,0.58,0,1,1,1,0A1,0.58,0,1,1,-1,0Z", "filled": true, "color": "#ccefc6", "opacity": 1, "size": 8100, "strokeWidth": 0}},
          {"data": {"name": "scatter"}, "mark": {"type": "circle", "color": "#ff0000", "opacity": 1, "size": 50}},
          {"data": {"name": "scatter"}, "transform": [{"filter": {"field": "name", "oneOf": ["cis−Aconitate", "NADP⁺", "Citrate", "AMP"]}}],
           "mark": {"type": "text", "fontSize": 12, "align": "left", "baseline": "middle", "dx": 8, "dy": -1, "color": "#111111"},
           "encoding": {"text": {"field": "name"}}},
          {"data": {"name": "scatter"}, "transform": [{"filter": {"field": "name", "oneOf": ["GMP"]}}],
           "mark": {"type": "text", "fontSize": 12, "align": "right", "baseline": "middle", "dx": -7, "color": "#111111"},
           "encoding": {"text": {"field": "name"}}},
          {"data": {"name": "scatter"}, "transform": [{"filter": {"field": "name", "oneOf": ["Lactate", "ADP", "Malic acid"]}}],
           "mark": {"type": "text", "fontSize": 12, "align": "center", "baseline": "middle", "dy": 13, "color": "#111111"},
           "encoding": {"text": {"field": "name"}}},
          {"data": {"name": "scatter"}, "transform": [{"filter": {"field": "name", "oneOf": ["NAD⁺"]}}],
           "mark": {"type": "text", "fontSize": 12, "align": "center", "baseline": "middle", "dy": 12, "color": "#e8141c"},
           "encoding": {"text": {"field": "name"}}},
          {"data": {"name": "scatter"}, "transform": [{"filter": {"field": "name", "oneOf": ["Oxaloacetate"]}}],
           "mark": {"type": "text", "fontSize": 12, "align": "right", "baseline": "middle", "dx": 9, "dy": -12, "color": "#111111"},
           "encoding": {"text": {"field": "name"}}},
          {"data": {"name": "scatter"}, "transform": [{"filter": {"field": "name", "oneOf": ["Succinate"]}}],
           "mark": {"type": "text", "fontSize": 12, "align": "left", "baseline": "middle", "dx": -11, "dy": -13, "color": "#111111"},
           "encoding": {"text": {"field": "name"}}}
        ]
      }
    ]
  }
]
}
